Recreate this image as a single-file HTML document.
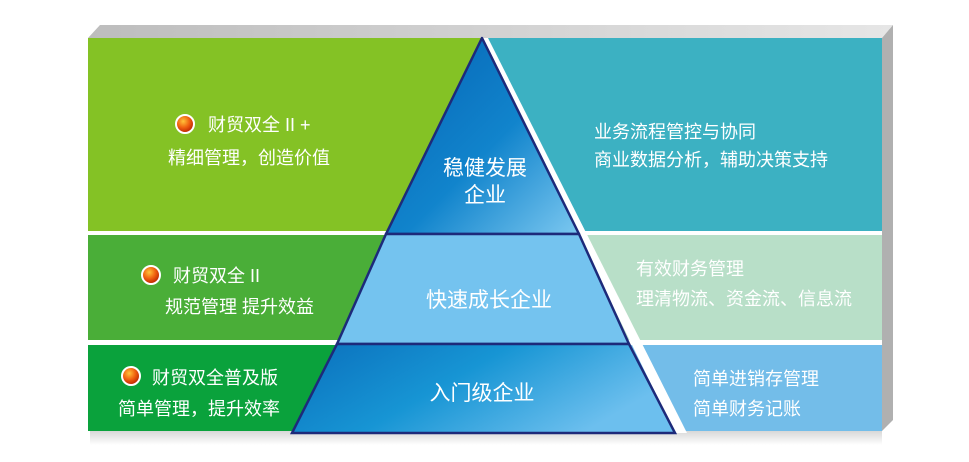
<!DOCTYPE html>
<html><head><meta charset="utf-8"><style>
html,body{margin:0;padding:0;background:#fff;width:969px;height:462px;overflow:hidden}
text{font-family:"Liberation Sans","Noto Sans CJK SC",sans-serif;fill:#fff}
</style></head><body>
<svg width="969" height="462" viewBox="0 0 969 462" xmlns="http://www.w3.org/2000/svg">
<defs>
<linearGradient id="top" x1="0" y1="0" x2="1" y2="1"><stop offset="0" stop-color="#0563b4"/><stop offset="0.55" stop-color="#1184cc"/><stop offset="1" stop-color="#7cc8f0"/></linearGradient>
<linearGradient id="bot" x1="0" y1="0" x2="1" y2="0.4"><stop offset="0" stop-color="#0a6fbc"/><stop offset="0.5" stop-color="#1795d4"/><stop offset="1" stop-color="#6cbfee"/></linearGradient>
<linearGradient id="gtop" x1="0" y1="0" x2="1" y2="0"><stop offset="0" stop-color="#bdbdbd"/><stop offset="1" stop-color="#e6e6e6"/></linearGradient>
<radialGradient id="ball" cx="0.4" cy="0.35" r="0.7"><stop offset="0" stop-color="#ffc23a"/><stop offset="0.5" stop-color="#f06010"/><stop offset="1" stop-color="#b01800"/></radialGradient>
<linearGradient id="shadow" x1="0" y1="0" x2="0" y2="1"><stop offset="0" stop-color="#d8d8d8"/><stop offset="1" stop-color="#fff"/></linearGradient>
</defs>
<polygon points="88,38 100,25 893,25 882,38" fill="url(#gtop)"/>
<polygon points="882,38 893,25 893,420 882,431" fill="#b0b0b0"/>
<rect x="90" y="431" width="792" height="14" fill="url(#shadow)"/>
<rect x="88" y="38" width="400" height="193" fill="#84c225"/>
<rect x="88" y="235" width="400" height="105" fill="#4aae38"/>
<rect x="88" y="345" width="400" height="86" fill="#0aa23c"/>
<rect x="482" y="38" width="400" height="193" fill="#3cb1c2"/>
<rect x="482" y="235" width="400" height="105" fill="#b8dfc8"/>
<rect x="482" y="345" width="400" height="86" fill="#73bde9"/>
<polygon points="482,38 488,38 687,433 675,433" fill="#fff"/>
<polygon points="482,38 386,234 579,234" fill="url(#top)" stroke="#1d2a7a" stroke-width="2.5" stroke-linejoin="round"/>
<polygon points="386,234 579,234 629,344 337,344" fill="#74c3ef" stroke="#1d2a7a" stroke-width="2.5"/>
<polygon points="337,344 629,344 675,433 292,433" fill="url(#bot)" stroke="#1d2a7a" stroke-width="2.5"/>
<circle cx="185" cy="124" r="9" fill="url(#ball)" stroke="#fff" stroke-width="2"/>
<circle cx="151" cy="275" r="9" fill="url(#ball)" stroke="#fff" stroke-width="2"/>
<circle cx="131" cy="376" r="9" fill="url(#ball)" stroke="#fff" stroke-width="2"/>
<g font-size="18">
<text x="208" y="131">财贸双全 II +</text>
<text x="168" y="164">精细管理，创造价值</text>
<text x="173" y="282">财贸双全 II</text>
<text x="165" y="313">规范管理 提升效益</text>
<text x="152" y="384">财贸双全普及版</text>
<text x="118" y="415">简单管理，提升效率</text>
<text x="594" y="138">业务流程管控与协同</text>
<text x="594" y="166">商业数据分析，辅助决策支持</text>
<text x="636" y="275">有效财务管理</text>
<text x="636" y="305">理清物流、资金流、信息流</text>
<text x="693" y="385">简单进销存管理</text>
<text x="693" y="415">简单财务记账</text>
</g>
<g font-size="21" text-anchor="middle">
<text x="485" y="175">稳健发展</text>
<text x="485" y="202">企业</text>
<text x="489" y="307">快速成长企业</text>
<text x="482" y="400">入门级企业</text>
</g>
</svg>
</body></html>
